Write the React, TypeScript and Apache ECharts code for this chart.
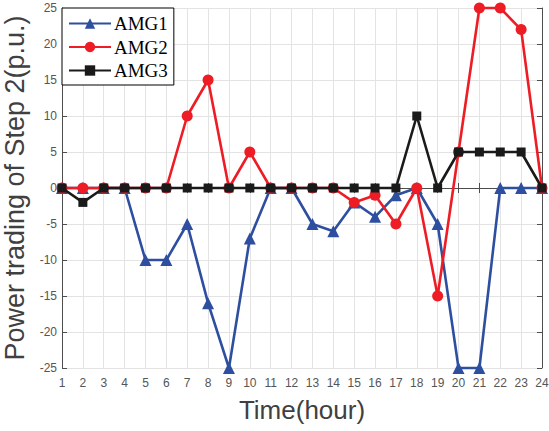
import React, { useEffect, useRef } from "react";
import * as echarts from "echarts";

const hours = ["1","2","3","4","5","6","7","8","9","10","11","12","13","14","15","16","17","18","19","20","21","22","23","24"];
const amg1 = [0, 0, 0, 0, -10, -10, -5, -16, -25, -7, 0, 0, -5, -6, -2, -4, -1, 0, -5, -25, -25, 0, 0, 0];
const amg2 = [0, 0, 0, 0, 0, 0, 10, 15, 0, 5, 0, 0, 0, 0, -2, -1, -5, 0, -15, 5, 25, 25, 22, 0];
const amg3 = [0, -2, 0, 0, 0, 0, 0, 0, 0, 0, 0, 0, 0, 0, 0, 0, 0, 10, 0, 5, 5, 5, 5, 0];

const BLUE = "#2e4fa0";
const RED = "#ee1c25";
const BLACK = "#1a1a1a";
const AXIS = "#4d4d4d";
const SANS = "Liberation Sans, Arial, Helvetica, sans-serif";
const SERIF = "Liberation Serif, Times New Roman, serif";

export default function App() {
  const ref = useRef<HTMLDivElement>(null);
  useEffect(() => {
    if (!ref.current) return;
    const chart = echarts.init(ref.current, null, { renderer: "svg" });
    const tick = { show: true, inside: true, length: 5, lineStyle: { color: AXIS } };
    chart.setOption({
      animation: false,
      backgroundColor: "#ffffff",
      grid: { left: 62, right: 7, top: 8, bottom: 63, containLabel: false, outerBoundsMode: "none" },
      legend: {
        orient: "vertical",
        left: 62,
        top: 8,
        padding: [6, 6, 5, 6],
        itemGap: 4.5,
        itemWidth: 42,
        itemHeight: 13,
        backgroundColor: "#ffffff",
        borderColor: "#000000",
        borderWidth: 1,
        borderRadius: 0,
        data: ["AMG1", "AMG2", "AMG3"],
        textStyle: { fontFamily: SERIF, fontSize: 19, color: "#000", lineHeight: 19, padding: [0, 0, 0, -2] },
        z: 10,
      },
      xAxis: [
        {
          type: "category",
          data: hours,
          boundaryGap: false,
          name: "Time(hour)",
          nameLocation: "middle",
          nameGap: 29,
          nameTextStyle: { fontFamily: SANS, fontSize: 26, color: "#404040" },
          axisLine: { show: true, lineStyle: { color: AXIS, width: 1 } },
          axisTick: { ...tick, interval: 0 },
          axisLabel: { interval: 0, fontFamily: SANS, fontSize: 12, color: "#555555", margin: 9 },
          splitLine: { show: true, interval: 0, lineStyle: { color: "#e3e3e3", width: 1 } },
        },
        {
          type: "category",
          data: hours,
          boundaryGap: false,
          position: "top",
          axisLine: { show: true, lineStyle: { color: AXIS, width: 1 } },
          axisTick: { ...tick, interval: 0 },
          axisLabel: { show: false },
          splitLine: { show: false },
        },
      ],
      yAxis: [
        {
          type: "value",
          min: -25,
          max: 25,
          interval: 5,
          name: "Power trading of Step 2(p.u.)",
          nameLocation: "middle",
          nameGap: 25,
          nameTextStyle: { fontFamily: SANS, fontSize: 27, color: "#404040" },
          axisLine: { show: true, lineStyle: { color: AXIS, width: 1 } },
          axisTick: tick,
          axisLabel: { fontFamily: SANS, fontSize: 12, color: "#555555", margin: 5 },
          splitLine: { show: true, lineStyle: { color: "#e3e3e3", width: 1 } },
        },
        {
          type: "value",
          min: -25,
          max: 25,
          interval: 5,
          position: "right",
          axisLine: { show: true, lineStyle: { color: AXIS, width: 1 } },
          axisTick: tick,
          axisLabel: { show: false },
          splitLine: { show: false },
        },
      ],
      series: [
        {
          name: "AMG1",
          type: "line",
          data: amg1,
          symbol: "triangle",
          symbolSize: 12,
          clip: false,
          lineStyle: { color: BLUE, width: 2.6 },
          itemStyle: { color: BLUE },
          z: 2,
        },
        {
          name: "AMG2",
          type: "line",
          data: amg2,
          symbol: "circle",
          symbolSize: 11,
          clip: false,
          lineStyle: { color: RED, width: 2.6 },
          itemStyle: { color: RED },
          z: 3,
        },
        {
          name: "AMG3",
          type: "line",
          data: amg3,
          symbol: "rect",
          symbolSize: 9,
          clip: false,
          lineStyle: { color: BLACK, width: 2.6 },
          itemStyle: { color: BLACK },
          z: 4,
        },
      ],
    });
    return () => chart.dispose();
  }, []);
  return (
    <div
      ref={ref}
      style={{ position: "fixed", left: 0, top: 0, width: 549, height: 431, background: "#fff" }}
    />
  );
}
